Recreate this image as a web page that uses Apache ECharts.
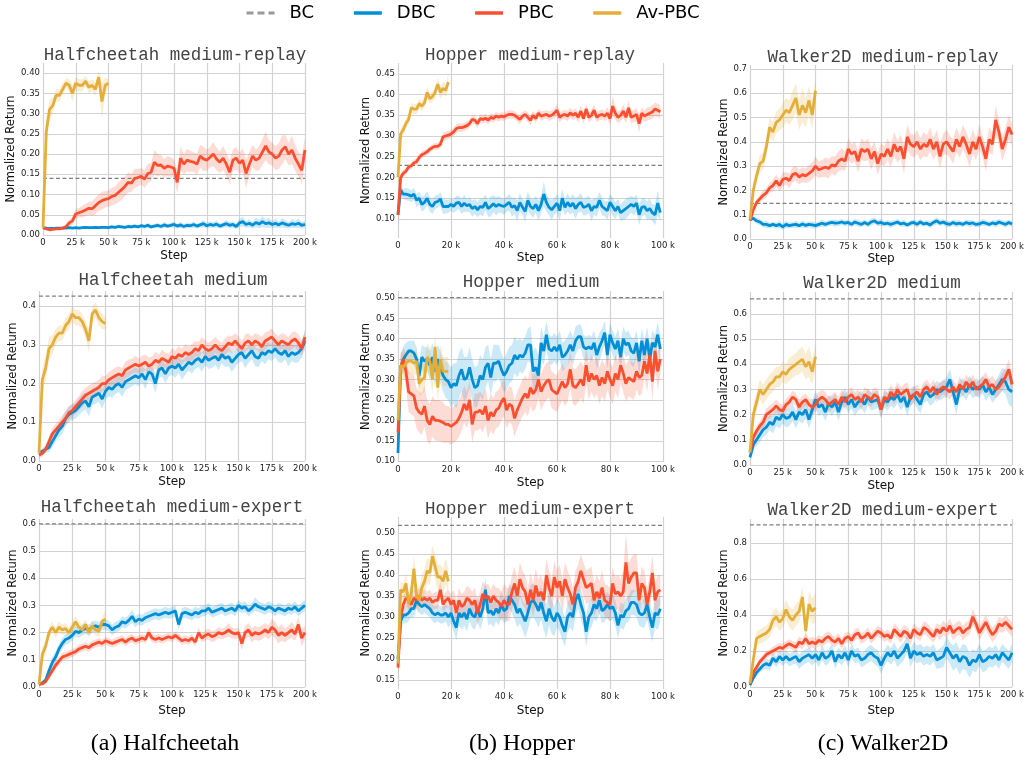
<!DOCTYPE html>
<html>
<head>
<meta charset="utf-8">
<script src="https://cdn.jsdelivr.net/npm/echarts@6/dist/echarts.min.js"></script>
<style>
html, body { margin: 0; padding: 0; background: #fff; }
#container { width: 1027px; height: 761px; }
</style>
</head>
<body>
<div id="container"></div>
<script>
// 采样网格 (单位: k step)
function range(start, stop, step) {
    var arr = [];
    for (var v = start; v <= stop + 1e-9; v += step) {
        arr.push(+v.toFixed(2));
    }
    return arr;
}
var steps200 = range(0, 200, 2.5);
var stepsAv200 = range(0, 50, 2.5);
var steps100 = range(0, 99, 1);
var stepsAv100 = range(0, 19, 1);

var titles = ['Halfcheetah medium-replay', 'Hopper medium-replay', 'Walker2D medium-replay',
    'Halfcheetah medium', 'Hopper medium', 'Walker2D medium',
    'Halfcheetah medium-expert', 'Hopper medium-expert', 'Walker2D medium-expert'];
var captions = ['(a) Halfcheetah', '(b) Hopper', '(c) Walker2D'];
var methods = ['BC', 'DBC', 'PBC', 'Av-PBC'];

// BC 基线
var bcValues = [0.14, 0.229, 0.147, 0.426, 0.501, 0.66, 0.6, 0.518, 0.9];

// y 轴刻度
var ticksHcReplay = [0, 0.05, 0.10, 0.15, 0.20, 0.25, 0.30, 0.35, 0.40];
var ticksHopReplay = [0.10, 0.15, 0.20, 0.25, 0.30, 0.35, 0.40, 0.45];
var ticksWalkReplay = [0, 0.1, 0.2, 0.3, 0.4, 0.5, 0.6, 0.7];
var ticksHcMedium = [0, 0.1, 0.2, 0.3, 0.4];
var ticksHopMedium = [0.10, 0.15, 0.20, 0.25, 0.30, 0.35, 0.40, 0.45, 0.50];
var ticksWalkMedium = [0, 0.1, 0.2, 0.3, 0.4, 0.5, 0.6];
var ticksHcExpert = [0, 0.1, 0.2, 0.3, 0.4, 0.5, 0.6];
var ticksHopExpert = [0.15, 0.20, 0.25, 0.30, 0.35, 0.40, 0.45, 0.50];
var ticksWalkExpert = [0, 0.2, 0.4, 0.6, 0.8];

// ---------- Halfcheetah medium-replay ----------
var hcReplayDbc = [
    .018,.017,.016,.016,.017,.017,.017,.017,.018,.017,
    .018,.017,.018,.019,.018,.018,.019,.018,.019,.019,
    .018,.020,.019,.021,.020,.019,.021,.020,.022,.020,
    .023,.021,.024,.020,.022,.024,.021,.025,.022,.024,
    .026,.022,.025,.021,.024,.023,.026,.022,.025,.028,
    .023,.026,.024,.027,.022,.025,.028,.024,.026,.021,
    .030,.033,.026,.029,.024,.031,.027,.033,.028,.030,
    .026,.029,.025,.030,.027,.024,.028,.026,.029,.024,
    .026];
var hcReplayDbcSd = [
    .002,.002,.002,.002,.002,.002,.002,.002,.003,.002,
    .003,.002,.003,.003,.003,.003,.003,.003,.004,.003,
    .004,.004,.004,.005,.004,.004,.005,.004,.005,.004,
    .005,.005,.006,.005,.005,.006,.005,.007,.005,.006,
    .007,.006,.008,.006,.007,.006,.008,.006,.007,.009,
    .007,.008,.007,.009,.006,.007,.009,.007,.008,.006,
    .010,.012,.008,.010,.008,.012,.010,.014,.010,.012,
    .009,.011,.008,.012,.010,.008,.011,.009,.012,.008,
    .009];
var hcReplayPbc = [
    .018,.015,.013,.014,.015,.015,.017,.020,.030,.035,
    .052,.055,.058,.062,.066,.065,.072,.080,.085,.088,
    .090,.095,.098,.105,.112,.120,.130,.128,.140,.142,
    .145,.138,.152,.155,.180,.172,.173,.165,.170,.168,
    .165,.130,.190,.175,.185,.182,.180,.175,.195,.188,
    .185,.192,.200,.188,.180,.190,.175,.155,.185,.190,
    .177,.185,.152,.175,.195,.185,.190,.205,.220,.205,
    .200,.190,.195,.210,.218,.200,.210,.190,.175,.160,
    .210];
var hcReplayPbcSd = [
    .002,.002,.002,.002,.002,.003,.004,.005,.008,.010,
    .012,.012,.014,.015,.016,.018,.020,.020,.022,.020,
    .020,.022,.022,.025,.025,.024,.025,.022,.024,.022,
    .020,.022,.024,.022,.030,.028,.025,.022,.025,.024,
    .022,.028,.030,.025,.028,.026,.024,.026,.028,.030,
    .026,.025,.030,.028,.026,.030,.028,.030,.026,.028,
    .026,.030,.035,.030,.028,.026,.030,.032,.035,.030,
    .028,.030,.032,.035,.030,.028,.035,.032,.030,.035,
    .030];
var hcReplayAv = [
    .018,.255,.310,.320,.345,.345,.360,.375,.370,.350,
    .375,.370,.370,.380,.365,.370,.360,.390,.330,.370,
    .375];
var hcReplayAvSd = [
    .003,.030,.025,.020,.015,.015,.015,.012,.015,.020,
    .015,.015,.015,.012,.015,.015,.015,.015,.045,.020,
    .010];

// ---------- Hopper medium-replay ----------
var hopReplayDbc = [
    .110,.170,.160,.160,.158,.155,.160,.145,.150,.135,
    .140,.150,.135,.130,.140,.142,.148,.130,.130,.130,
    .135,.130,.138,.140,.130,.138,.132,.135,.125,.130,
    .122,.130,.128,.140,.125,.130,.137,.130,.135,.132,
    .130,.135,.140,.128,.132,.120,.140,.128,.118,.145,
    .130,.125,.135,.120,.135,.160,.140,.128,.122,.130,
    .138,.120,.150,.128,.140,.130,.138,.125,.135,.140,
    .128,.130,.135,.120,.130,.128,.145,.130,.125,.120,
    .140,.130,.120,.130,.115,.120,.125,.130,.135,.130,
    .138,.110,.128,.130,.120,.125,.115,.110,.138,.115];
var hopReplayDbcSd = [
    .010,.012,.012,.015,.015,.014,.015,.016,.016,.018,
    .018,.016,.018,.018,.016,.015,.016,.018,.017,.016,
    .015,.016,.018,.016,.018,.020,.016,.018,.020,.018,
    .018,.020,.022,.018,.020,.025,.020,.022,.020,.018,
    .020,.018,.020,.022,.020,.025,.022,.020,.025,.022,
    .020,.022,.020,.025,.022,.030,.022,.020,.025,.020,
    .022,.025,.022,.020,.022,.020,.022,.025,.020,.022,
    .020,.022,.020,.025,.020,.022,.020,.022,.018,.022,
    .020,.022,.020,.018,.020,.022,.025,.022,.020,.022,
    .020,.025,.022,.020,.022,.025,.020,.025,.030,.020];
var hopReplayPbc = [
    .110,.200,.210,.215,.225,.228,.235,.238,.248,.255,
    .258,.262,.268,.272,.275,.275,.280,.298,.300,.302,
    .305,.310,.318,.320,.320,.322,.325,.330,.340,.338,
    .330,.342,.340,.343,.338,.345,.342,.348,.345,.348,
    .346,.350,.352,.352,.350,.345,.340,.348,.352,.345,
    .338,.350,.342,.355,.348,.350,.352,.348,.350,.355,
    .362,.345,.350,.352,.348,.356,.350,.355,.345,.360,
    .342,.365,.345,.350,.362,.345,.350,.352,.348,.355,
    .342,.372,.355,.345,.350,.360,.345,.368,.345,.348,
    .352,.330,.355,.348,.352,.355,.358,.365,.362,.358];
var hopReplayPbcSd = [
    .030,.010,.008,.008,.008,.008,.008,.008,.008,.008,
    .008,.008,.008,.008,.008,.008,.010,.010,.010,.010,
    .010,.010,.010,.010,.010,.010,.010,.010,.010,.010,
    .010,.010,.010,.010,.010,.010,.010,.010,.010,.010,
    .010,.010,.010,.010,.010,.010,.012,.010,.010,.012,
    .012,.010,.012,.010,.012,.010,.010,.012,.010,.012,
    .014,.012,.010,.012,.012,.012,.012,.012,.012,.014,
    .012,.014,.012,.012,.014,.012,.012,.012,.012,.014,
    .014,.025,.016,.014,.014,.016,.014,.018,.016,.014,
    .016,.022,.014,.014,.016,.016,.016,.016,.016,.016];
var hopReplayAv = [
    .200,.305,.315,.330,.340,.368,.365,.365,.378,.372,
    .380,.405,.390,.395,.405,.425,.405,.415,.410,.430];
var hopReplayAvSd = [
    .030,.015,.012,.012,.012,.012,.012,.012,.012,.012,
    .012,.015,.012,.012,.015,.015,.015,.015,.015,.020];

// ---------- Walker2D medium-replay ----------
var walkReplayDbc = [
    .080,.085,.075,.070,.060,.060,.055,.060,.055,.060,
    .050,.060,.055,.058,.060,.055,.062,.056,.060,.058,
    .055,.060,.065,.060,.065,.068,.065,.066,.070,.065,
    .068,.060,.070,.065,.060,.068,.060,.070,.075,.065,
    .068,.062,.065,.060,.065,.070,.062,.065,.058,.065,
    .068,.060,.070,.062,.065,.058,.068,.075,.065,.070,
    .063,.060,.068,.062,.065,.060,.068,.063,.066,.060,
    .062,.068,.065,.060,.066,.062,.070,.065,.060,.068,
    .062];
var walkReplayDbcSd = [
    .005,.010,.012,.012,.012,.015,.012,.012,.012,.015,
    .012,.015,.012,.012,.015,.012,.015,.012,.012,.015,
    .012,.012,.015,.012,.012,.012,.015,.012,.012,.012,
    .012,.012,.012,.015,.012,.012,.012,.015,.012,.012,
    .015,.012,.012,.015,.012,.012,.012,.015,.012,.012,
    .012,.015,.012,.012,.012,.015,.012,.015,.012,.012,
    .012,.012,.012,.015,.012,.012,.012,.015,.012,.012,
    .012,.015,.012,.012,.012,.015,.012,.012,.015,.012,
    .012];
var walkReplayPbc = [
    .075,.120,.150,.165,.180,.190,.210,.220,.240,.220,
    .245,.250,.240,.265,.270,.255,.265,.260,.270,.280,
    .300,.285,.290,.295,.290,.305,.300,.320,.330,.320,
    .370,.350,.360,.320,.370,.360,.370,.330,.360,.310,
    .350,.340,.370,.340,.390,.360,.380,.330,.420,.390,
    .380,.400,.370,.390,.380,.410,.370,.400,.340,.390,
    .400,.380,.360,.410,.380,.420,.390,.350,.400,.370,
    .420,.380,.330,.410,.390,.490,.440,.370,.410,.460,
    .430];
var walkReplayPbcSd = [
    .005,.010,.015,.015,.020,.020,.020,.025,.025,.025,
    .030,.025,.030,.030,.030,.030,.030,.030,.035,.035,
    .040,.035,.035,.040,.040,.035,.040,.040,.045,.040,
    .045,.040,.040,.045,.045,.040,.045,.045,.040,.045,
    .045,.040,.045,.045,.050,.045,.050,.060,.050,.045,
    .045,.050,.045,.050,.045,.050,.045,.050,.050,.045,
    .050,.045,.050,.050,.045,.050,.050,.055,.050,.045,
    .050,.045,.050,.050,.045,.060,.050,.050,.050,.050,
    .045];
var walkReplayAv = [
    .080,.200,.260,.310,.320,.380,.460,.440,.480,.490,
    .510,.530,.520,.550,.580,.510,.550,.520,.570,.510,
    .610];
var walkReplayAvSd = [
    .005,.030,.030,.035,.035,.040,.040,.040,.045,.045,
    .050,.050,.050,.060,.060,.060,.070,.060,.060,.060,
    .050];

// ---------- Halfcheetah medium ----------
var hcMediumDbc = [
    .020,.025,.030,.035,.050,.065,.080,.090,.110,.120,
    .125,.130,.140,.150,.155,.140,.165,.170,.175,.160,
    .180,.190,.185,.195,.200,.190,.205,.210,.215,.220,
    .215,.225,.210,.230,.225,.200,.235,.240,.225,.240,
    .245,.240,.250,.235,.245,.255,.250,.260,.265,.255,
    .270,.260,.265,.270,.260,.275,.265,.270,.255,.265,
    .275,.280,.265,.275,.285,.270,.265,.280,.275,.285,
    .280,.290,.280,.275,.285,.270,.280,.275,.280,.290,
    .310];
var hcMediumDbcSd = [
    .005,.008,.010,.012,.015,.015,.018,.020,.020,.020,
    .020,.020,.022,.022,.022,.025,.022,.022,.022,.025,
    .022,.022,.022,.022,.022,.025,.022,.022,.022,.022,
    .022,.022,.025,.022,.022,.025,.022,.022,.025,.022,
    .022,.025,.022,.025,.022,.022,.025,.022,.022,.025,
    .022,.022,.025,.022,.025,.022,.022,.025,.025,.022,
    .022,.022,.025,.022,.022,.025,.022,.022,.025,.022,
    .022,.022,.025,.022,.022,.025,.022,.022,.025,.022,
    .022];
var hcMediumPbc = [
    .015,.020,.030,.050,.070,.080,.090,.100,.110,.125,
    .130,.140,.150,.160,.170,.175,.180,.185,.190,.200,
    .200,.210,.215,.220,.225,.220,.235,.240,.245,.250,
    .245,.250,.255,.245,.250,.260,.255,.265,.260,.255,
    .270,.265,.275,.270,.280,.275,.280,.290,.285,.300,
    .290,.285,.290,.300,.290,.285,.295,.305,.300,.310,
    .300,.290,.305,.310,.300,.310,.305,.295,.310,.315,
    .320,.310,.300,.310,.305,.300,.310,.315,.305,.290,
    .320];
var hcMediumPbcSd = [
    .005,.008,.010,.012,.015,.015,.015,.018,.018,.018,
    .018,.018,.018,.020,.020,.020,.020,.020,.020,.020,
    .020,.020,.020,.022,.020,.020,.022,.022,.020,.022,
    .020,.022,.020,.022,.020,.022,.020,.022,.020,.022,
    .022,.020,.022,.020,.022,.020,.022,.020,.022,.020,
    .022,.020,.022,.020,.022,.020,.022,.020,.022,.020,
    .022,.020,.022,.020,.022,.020,.022,.025,.022,.020,
    .022,.020,.022,.020,.022,.020,.022,.020,.022,.020,
    .020];
var hcMediumAv = [
    .020,.210,.240,.290,.300,.320,.330,.330,.350,.360,
    .380,.370,.370,.360,.340,.310,.380,.390,.370,.360,
    .355];
var hcMediumAvSd = [
    .005,.030,.030,.030,.025,.020,.020,.020,.020,.020,
    .020,.020,.020,.020,.020,.030,.020,.020,.020,.020,
    .015];

// ---------- Hopper medium ----------
var hopMediumDbc = [
    .120,.330,.350,.360,.370,.370,.365,.350,.310,.355,
    .345,.350,.335,.355,.320,.350,.330,.310,.300,.295,
    .280,.290,.285,.310,.325,.300,.305,.330,.300,.280,
    .285,.310,.300,.330,.340,.305,.340,.340,.345,.325,
    .310,.320,.335,.340,.360,.350,.360,.355,.365,.385,
    .385,.320,.330,.310,.390,.370,.410,.375,.370,.380,
    .370,.385,.355,.360,.370,.385,.370,.395,.405,.405,
    .380,.375,.380,.375,.390,.360,.380,.395,.415,.360,
    .410,.390,.375,.395,.355,.400,.385,.390,.370,.365,
    .390,.345,.395,.360,.400,.350,.390,.380,.410,.375];
var hopMediumDbcSd = [
    .020,.030,.030,.030,.025,.025,.030,.030,.035,.030,
    .035,.030,.035,.035,.035,.035,.040,.040,.045,.045,
    .050,.050,.055,.055,.055,.055,.050,.050,.050,.050,
    .050,.050,.050,.050,.045,.045,.045,.045,.040,.040,
    .040,.045,.045,.045,.045,.045,.040,.040,.040,.040,
    .045,.050,.050,.050,.040,.035,.035,.035,.035,.035,
    .035,.035,.035,.035,.035,.035,.035,.035,.030,.030,
    .030,.030,.030,.030,.030,.035,.035,.030,.030,.035,
    .030,.030,.030,.030,.035,.030,.030,.030,.035,.035,
    .030,.035,.030,.035,.030,.035,.030,.030,.030,.035];
var hopMediumPbc = [
    .170,.330,.350,.320,.270,.265,.260,.230,.220,.215,
    .235,.200,.190,.210,.200,.200,.198,.195,.190,.190,
    .185,.190,.195,.205,.220,.240,.225,.250,.190,.220,
    .220,.225,.215,.235,.200,.220,.210,.225,.230,.245,
    .255,.225,.240,.235,.205,.225,.240,.255,.265,.255,
    .280,.265,.275,.300,.270,.285,.295,.300,.275,.270,
    .265,.280,.295,.280,.290,.325,.285,.280,.290,.300,
    .285,.335,.295,.315,.300,.310,.285,.305,.290,.320,
    .300,.285,.315,.300,.335,.315,.290,.305,.300,.295,
    .320,.305,.310,.345,.315,.360,.295,.370,.320,.350];
var hopMediumPbcSd = [
    .040,.030,.030,.040,.050,.050,.050,.050,.050,.050,
    .050,.050,.050,.050,.050,.050,.050,.050,.045,.045,
    .045,.045,.045,.045,.045,.045,.045,.045,.045,.045,
    .045,.045,.045,.045,.045,.045,.045,.045,.045,.045,
    .045,.045,.045,.045,.045,.045,.045,.045,.045,.045,
    .045,.045,.045,.045,.045,.045,.045,.045,.045,.045,
    .045,.045,.045,.045,.045,.045,.045,.045,.045,.045,
    .045,.045,.045,.045,.045,.045,.045,.045,.045,.045,
    .045,.045,.045,.045,.045,.045,.045,.045,.045,.045,
    .045,.045,.045,.040,.045,.040,.045,.040,.045,.040];
var hopMediumAv = [
    .200,.335,.330,.340,.345,.345,.340,.345,.290,.300,
    .305,.355,.345,.300,.380,.280,.350,.320,.320,.320];
var hopMediumAvSd = [
    .030,.030,.030,.030,.030,.030,.030,.030,.030,.035,
    .035,.035,.035,.035,.035,.040,.035,.035,.035,.035];

// ---------- Walker2D medium ----------
var walkMediumDbc = [
    .030,.080,.100,.120,.140,.150,.170,.160,.190,.180,
    .200,.185,.190,.210,.180,.210,.200,.220,.180,.220,
    .260,.230,.240,.210,.245,.230,.250,.210,.250,.270,
    .240,.260,.230,.250,.260,.240,.270,.250,.255,.260,
    .220,.260,.250,.270,.260,.280,.250,.270,.230,.270,
    .280,.260,.240,.280,.290,.270,.280,.300,.290,.300,
    .310,.340,.290,.240,.300,.310,.290,.320,.300,.310,
    .300,.320,.290,.310,.280,.300,.320,.340,.330,.300,
    .290];
var walkMediumDbcSd = [
    .010,.020,.025,.030,.030,.030,.030,.035,.035,.035,
    .035,.035,.035,.035,.035,.035,.035,.035,.035,.035,
    .035,.035,.035,.035,.035,.035,.035,.035,.035,.035,
    .035,.035,.035,.035,.035,.035,.035,.035,.035,.035,
    .035,.035,.035,.035,.035,.035,.035,.035,.035,.035,
    .035,.035,.035,.035,.035,.035,.035,.035,.035,.035,
    .040,.040,.040,.040,.035,.035,.035,.035,.035,.035,
    .035,.035,.035,.035,.035,.035,.040,.045,.050,.060,
    .060];
var walkMediumPbc = [
    .050,.110,.135,.155,.170,.200,.210,.220,.235,.220,
    .215,.240,.250,.270,.260,.230,.250,.260,.240,.230,
    .240,.260,.270,.260,.240,.250,.260,.240,.270,.250,
    .270,.280,.260,.270,.250,.280,.270,.260,.280,.270,
    .220,.270,.260,.290,.270,.300,.280,.290,.300,.260,
    .280,.290,.270,.300,.310,.290,.310,.280,.300,.310,
    .300,.290,.310,.290,.320,.300,.330,.310,.330,.300,
    .310,.320,.340,.310,.320,.300,.310,.330,.350,.380,
    .320];
var walkMediumPbcSd = [
    .010,.015,.020,.020,.025,.025,.025,.025,.025,.025,
    .025,.025,.025,.025,.025,.030,.025,.025,.025,.030,
    .030,.030,.030,.030,.030,.030,.030,.030,.030,.030,
    .030,.030,.030,.030,.030,.030,.030,.030,.030,.030,
    .030,.030,.030,.030,.030,.030,.030,.030,.030,.030,
    .030,.030,.030,.030,.030,.030,.030,.030,.030,.030,
    .030,.030,.030,.030,.030,.030,.030,.030,.030,.030,
    .030,.030,.030,.030,.035,.035,.035,.035,.035,.040,
    .040];
var walkMediumAv = [
    .050,.200,.250,.300,.280,.300,.320,.330,.350,.350,
    .370,.360,.380,.390,.400,.410,.420,.390,.410,.370,
    .430];
var walkMediumAvSd = [
    .010,.040,.040,.040,.040,.040,.040,.040,.040,.040,
    .040,.040,.045,.045,.045,.050,.050,.050,.060,.050,
    .050];

// ---------- Halfcheetah medium-expert ----------
var hcExpertDbc = [
    .010,.015,.025,.060,.090,.110,.140,.160,.175,.180,
    .190,.205,.200,.210,.215,.210,.220,.225,.220,.230,
    .230,.225,.210,.220,.225,.240,.235,.245,.260,.240,
    .250,.245,.255,.260,.265,.270,.265,.270,.275,.270,
    .275,.280,.230,.270,.275,.270,.265,.275,.270,.280,
    .280,.290,.275,.280,.285,.290,.280,.285,.290,.280,
    .300,.290,.295,.280,.290,.305,.295,.290,.285,.295,
    .290,.280,.290,.285,.280,.290,.285,.295,.280,.290,
    .300];
var hcExpertDbcSd = [
    .005,.008,.010,.015,.020,.020,.020,.020,.020,.020,
    .020,.020,.020,.020,.020,.020,.020,.020,.020,.020,
    .020,.020,.020,.020,.020,.020,.020,.020,.025,.020,
    .020,.020,.020,.020,.020,.020,.020,.020,.020,.020,
    .020,.020,.020,.020,.020,.020,.020,.020,.020,.020,
    .020,.020,.020,.020,.020,.020,.020,.020,.020,.020,
    .020,.020,.020,.020,.020,.025,.020,.020,.020,.020,
    .020,.020,.020,.020,.020,.020,.020,.020,.020,.020,
    .020];
var hcExpertPbc = [
    .010,.012,.020,.040,.060,.080,.095,.110,.115,.120,
    .125,.130,.140,.145,.150,.145,.155,.160,.165,.160,
    .170,.165,.160,.165,.170,.175,.165,.175,.180,.170,
    .175,.180,.175,.200,.180,.175,.180,.175,.180,.185,
    .180,.190,.180,.170,.175,.170,.180,.165,.200,.180,
    .190,.195,.185,.190,.200,.195,.200,.210,.200,.195,
    .200,.160,.200,.210,.190,.200,.195,.200,.210,.200,
    .220,.210,.190,.200,.190,.200,.210,.195,.230,.180,
    .200];
var hcExpertPbcSd = [
    .005,.008,.010,.012,.015,.015,.015,.015,.015,.015,
    .015,.015,.015,.015,.015,.015,.015,.015,.015,.015,
    .015,.015,.015,.015,.015,.015,.015,.015,.015,.015,
    .015,.015,.015,.020,.015,.015,.015,.015,.015,.015,
    .015,.015,.015,.015,.015,.015,.015,.015,.020,.015,
    .020,.020,.020,.020,.020,.020,.020,.025,.020,.020,
    .020,.025,.025,.025,.025,.025,.025,.025,.025,.025,
    .030,.030,.030,.030,.025,.025,.030,.025,.030,.030,
    .025];
var hcExpertAv = [
    .010,.120,.150,.200,.220,.200,.220,.210,.215,.200,
    .220,.240,.220,.210,.230,.200,.225,.210,.205,.240,
    .250];
var hcExpertAvSd = [
    .005,.030,.025,.020,.020,.020,.020,.020,.020,.020,
    .020,.020,.020,.020,.020,.020,.020,.020,.020,.020,
    .030];

// ---------- Hopper medium-expert ----------
var hopExpertDbc = [
    .200,.290,.305,.305,.310,.320,.320,.340,.330,.325,
    .330,.325,.320,.310,.305,.310,.305,.305,.310,.300,
    .310,.290,.275,.310,.300,.310,.295,.320,.305,.300,
    .320,.300,.320,.365,.310,.315,.305,.320,.310,.330,
    .315,.320,.350,.340,.330,.310,.320,.305,.290,.310,
    .335,.340,.330,.315,.335,.310,.290,.320,.300,.290,
    .310,.300,.280,.265,.300,.310,.300,.340,.355,.330,
    .310,.265,.300,.310,.330,.320,.340,.315,.320,.330,
    .320,.325,.310,.280,.305,.300,.315,.320,.335,.335,
    .330,.310,.305,.310,.330,.300,.275,.310,.305,.320];
var hopExpertDbcSd = [
    .030,.020,.020,.020,.020,.020,.020,.020,.020,.020,
    .020,.020,.020,.020,.020,.020,.020,.020,.020,.025,
    .025,.025,.030,.030,.030,.030,.030,.030,.030,.030,
    .030,.030,.030,.030,.030,.030,.030,.030,.030,.030,
    .030,.030,.030,.030,.035,.035,.035,.035,.040,.040,
    .040,.040,.040,.040,.040,.040,.040,.040,.040,.035,
    .035,.035,.035,.035,.035,.035,.035,.035,.035,.035,
    .035,.035,.035,.035,.035,.030,.030,.030,.030,.030,
    .030,.030,.030,.030,.030,.030,.030,.030,.030,.030,
    .030,.030,.030,.035,.035,.035,.035,.035,.035,.030];
var hopExpertPbc = [
    .180,.300,.330,.345,.340,.330,.345,.340,.350,.340,
    .345,.340,.345,.335,.340,.340,.365,.330,.340,.345,
    .330,.340,.310,.340,.325,.330,.345,.340,.330,.340,
    .310,.330,.355,.345,.350,.335,.350,.340,.335,.325,
    .340,.330,.330,.360,.380,.350,.390,.370,.360,.330,
    .365,.340,.375,.350,.360,.340,.400,.370,.350,.395,
    .370,.385,.350,.390,.370,.355,.330,.370,.385,.410,
    .390,.370,.375,.380,.340,.360,.345,.370,.340,.335,
    .330,.380,.355,.360,.350,.360,.430,.380,.395,.405,
    .405,.340,.380,.370,.330,.360,.405,.340,.360,.365];
var hopExpertPbcSd = [
    .030,.020,.020,.020,.020,.020,.020,.020,.020,.020,
    .020,.020,.020,.020,.020,.020,.020,.020,.020,.020,
    .025,.025,.030,.030,.030,.030,.030,.030,.030,.030,
    .030,.030,.030,.030,.030,.030,.030,.030,.035,.035,
    .040,.040,.040,.040,.040,.040,.040,.040,.040,.040,
    .040,.040,.040,.040,.040,.040,.040,.040,.040,.040,
    .040,.040,.040,.040,.040,.040,.040,.040,.040,.040,
    .040,.040,.040,.040,.040,.040,.040,.040,.040,.040,
    .040,.040,.040,.040,.040,.050,.070,.050,.045,.045,
    .045,.040,.040,.040,.040,.040,.040,.040,.040,.035];
var hopExpertAv = [
    .190,.365,.360,.380,.330,.355,.415,.350,.340,.370,
    .385,.410,.405,.445,.420,.395,.395,.385,.410,.385];
var hopExpertAvSd = [
    .040,.020,.020,.025,.030,.030,.030,.030,.030,.030,
    .030,.030,.030,.025,.030,.030,.030,.030,.030,.030];

// ---------- Walker2D medium-expert ----------
var walkExpertDbc = [
    .010,.050,.080,.100,.120,.130,.120,.160,.140,.170,
    .150,.170,.150,.160,.170,.140,.160,.170,.180,.160,
    .180,.150,.190,.160,.170,.200,.140,.180,.160,.190,
    .150,.200,.170,.180,.150,.160,.180,.190,.170,.160,
    .120,.160,.190,.170,.200,.160,.180,.200,.240,.160,
    .200,.180,.190,.170,.180,.170,.190,.150,.160,.170,
    .220,.190,.160,.180,.140,.170,.160,.120,.150,.140,
    .180,.140,.150,.170,.160,.180,.150,.190,.170,.150,
    .190];
var walkExpertDbcSd = [
    .005,.015,.020,.020,.025,.030,.030,.030,.030,.035,
    .035,.035,.035,.035,.040,.040,.040,.040,.040,.040,
    .040,.040,.040,.040,.040,.040,.040,.040,.040,.040,
    .040,.040,.040,.040,.040,.040,.045,.045,.045,.045,
    .045,.045,.045,.045,.050,.050,.050,.050,.050,.050,
    .050,.050,.050,.050,.050,.050,.050,.050,.055,.060,
    .060,.060,.070,.070,.070,.070,.070,.070,.060,.060,
    .060,.060,.060,.055,.055,.055,.050,.050,.050,.050,
    .050];
var walkExpertPbc = [
    .020,.080,.110,.140,.160,.180,.190,.200,.210,.220,
    .215,.230,.240,.230,.220,.250,.240,.270,.240,.250,
    .240,.260,.250,.270,.280,.260,.250,.270,.240,.270,
    .280,.260,.290,.300,.270,.280,.300,.270,.290,.310,
    .300,.280,.290,.270,.320,.300,.280,.310,.300,.270,
    .320,.300,.290,.330,.320,.300,.280,.320,.300,.330,
    .310,.340,.300,.320,.330,.300,.320,.330,.390,.350,
    .300,.330,.360,.320,.290,.310,.350,.340,.360,.340,
    .320];
var walkExpertPbcSd = [
    .005,.010,.015,.015,.020,.020,.020,.025,.025,.025,
    .025,.025,.025,.025,.030,.030,.030,.030,.030,.030,
    .030,.030,.030,.030,.030,.030,.030,.030,.030,.030,
    .030,.030,.030,.030,.030,.030,.030,.030,.030,.030,
    .030,.030,.030,.030,.035,.035,.035,.035,.035,.035,
    .035,.035,.035,.035,.035,.035,.035,.035,.040,.040,
    .040,.040,.040,.040,.040,.040,.040,.040,.045,.040,
    .040,.040,.040,.040,.040,.040,.040,.040,.040,.040,
    .040];
var walkExpertAv = [
    .020,.150,.270,.280,.290,.300,.320,.370,.390,.360,
    .380,.430,.390,.370,.400,.420,.500,.310,.460,.420,
    .440];
var walkExpertAvSd = [
    .005,.040,.040,.040,.040,.040,.045,.050,.050,.050,
    .050,.055,.055,.060,.060,.060,.060,.060,.070,.070,
    .080];

// 颜色 (fivethirtyeight)
var colors = { BC: '#808080', DBC: '#008fd5', PBC: '#fc4f30', 'Av-PBC': '#e5ae38' };
var bandColors = { DBC: 'rgba(0,143,213,0.2)', PBC: 'rgba(252,79,48,0.2)', 'Av-PBC': 'rgba(229,174,56,0.22)' };

// 子图布局
var panels = [
    { rect: [43, 63, 262, 172], xMax: 200, xInt: 25, yMin: 0, yMax: 0.425, ticks: ticksHcReplay, dec: 2, yGap: 23, xGap: 15, title: [175, 55],
      xs: steps200, xsAv: stepsAv200, dbc: [hcReplayDbc, hcReplayDbcSd], pbc: [hcReplayPbc, hcReplayPbcSd], av: [hcReplayAv, hcReplayAvSd] },
    { rect: [398, 63, 265, 175], xMax: 100, xInt: 20, yMin: 0.054, yMax: 0.476, ticks: ticksHopReplay, dec: 2, yGap: 24, xGap: 14, title: [530, 55],
      xs: steps100, xsAv: stepsAv100, dbc: [hopReplayDbc, hopReplayDbcSd], pbc: [hopReplayPbc, hopReplayPbcSd], av: [hopReplayAv, hopReplayAvSd] },
    { rect: [750, 65, 263, 174], xMax: 200, xInt: 25, yMin: 0, yMax: 0.716, ticks: ticksWalkReplay, dec: 1, yGap: 18, xGap: 14, title: [883, 57],
      xs: steps200, xsAv: stepsAv200, dbc: [walkReplayDbc, walkReplayDbcSd], pbc: [walkReplayPbc, walkReplayPbcSd], av: [walkReplayAv, walkReplayAvSd] },
    { rect: [39, 291, 266, 170], xMax: 200, xInt: 25, yMin: 0, yMax: 0.439, ticks: ticksHcMedium, dec: 1, yGap: 19, xGap: 15, title: [173, 280],
      xs: steps200, xsAv: stepsAv200, dbc: [hcMediumDbc, hcMediumDbcSd], pbc: [hcMediumPbc, hcMediumPbcSd], av: [hcMediumAv, hcMediumAvSd] },
    { rect: [398, 291, 265, 171], xMax: 100, xInt: 20, yMin: 0.098, yMax: 0.517, ticks: ticksHopMedium, dec: 2, yGap: 24, xGap: 15, title: [531, 282],
      xs: steps100, xsAv: stepsAv100, dbc: [hopMediumDbc, hopMediumDbcSd], pbc: [hopMediumPbc, hopMediumPbcSd], av: [hopMediumAv, hopMediumAvSd] },
    { rect: [750, 292, 263, 173], xMax: 200, xInt: 25, yMin: 0, yMax: 0.687, ticks: ticksWalkMedium, dec: 1, yGap: 18, xGap: 15, title: [882, 283],
      xs: steps200, xsAv: stepsAv200, dbc: [walkMediumDbc, walkMediumDbcSd], pbc: [walkMediumPbc, walkMediumPbcSd], av: [walkMediumAv, walkMediumAvSd] },
    { rect: [39, 519, 266, 168], xMax: 200, xInt: 25, yMin: 0, yMax: 0.618, ticks: ticksHcExpert, dec: 1, yGap: 19, xGap: 18, title: [172, 507],
      xs: steps200, xsAv: stepsAv200, dbc: [hcExpertDbc, hcExpertDbcSd], pbc: [hcExpertPbc, hcExpertPbcSd], av: [hcExpertAv, hcExpertAvSd] },
    { rect: [398, 517, 265, 172], xMax: 100, xInt: 20, yMin: 0.129, yMax: 0.538, ticks: ticksHopExpert, dec: 2, yGap: 24, xGap: 16, title: [530, 509],
      xs: steps100, xsAv: stepsAv100, dbc: [hopExpertDbc, hopExpertDbcSd], pbc: [hopExpertPbc, hopExpertPbcSd], av: [hopExpertAv, hopExpertAvSd] },
    { rect: [750, 519, 263, 168], xMax: 200, xInt: 25, yMin: 0, yMax: 0.933, ticks: ticksWalkExpert, dec: 1, yGap: 18, xGap: 18, title: [883, 510],
      xs: steps200, xsAv: stepsAv200, dbc: [walkExpertDbc, walkExpertDbcSd], pbc: [walkExpertPbc, walkExpertPbcSd], av: [walkExpertAv, walkExpertAvSd] }
];
var captionX = [165, 522, 883];

function lineSeries(name, gi, xs, ys, color, width) {
    return {
        name: name,
        type: 'line',
        xAxisIndex: gi,
        yAxisIndex: gi,
        data: xs.map(function (x, i) { return [x, ys[i]]; }),
        symbol: 'none',
        silent: true,
        lineStyle: { color: color, width: width },
        itemStyle: { color: color }
    };
}

// 误差带: custom 多边形
function bandSeries(name, gi, xs, ys, sd, color) {
    return {
        name: name + ' band',
        type: 'custom',
        xAxisIndex: gi,
        yAxisIndex: gi,
        silent: true,
        clip: true,
        data: [[xs[0], ys[0]]],
        renderItem: function (params, api) {
            var pts = [];
            for (var i = 0; i < xs.length; i++) {
                pts.push(api.coord([xs[i], ys[i] + sd[i]]));
            }
            for (var j = xs.length - 1; j >= 0; j--) {
                pts.push(api.coord([xs[j], ys[j] - sd[j]]));
            }
            return { type: 'polygon', shape: { points: pts }, style: { fill: color } };
        }
    };
}

var grids = [], xAxes = [], yAxes = [], series = [], graphics = [];
panels.forEach(function (p, gi) {
    grids.push({ left: p.rect[0], top: p.rect[1], width: p.rect[2], height: p.rect[3], containLabel: false });
    xAxes.push({
        type: 'value', gridIndex: gi, min: 0, max: p.xMax, interval: p.xInt,
        name: 'Step', nameLocation: 'middle', nameGap: p.xGap,
        nameTextStyle: { fontFamily: 'DejaVu Sans', fontSize: 12, color: '#111' },
        axisLine: { show: false }, axisTick: { show: false },
        axisLabel: {
            fontFamily: 'DejaVu Sans', fontSize: 8.5, color: '#222', margin: 3,
            formatter: function (v) { return v === 0 ? '0' : v + ' k'; }
        },
        splitLine: { show: true, lineStyle: { color: '#d2d2d2', width: 1.2 } }
    });
    yAxes.push({
        type: 'value', gridIndex: gi, min: p.yMin, max: p.yMax,
        name: 'Normalized Return', nameLocation: 'middle', nameGap: p.yGap, nameRotate: 90,
        nameTextStyle: { fontFamily: 'DejaVu Sans', fontSize: 11.5, color: '#111' },
        axisLine: { show: false },
        axisTick: { show: false, customValues: p.ticks },
        axisLabel: {
            fontFamily: 'DejaVu Sans', fontSize: 8.5, color: '#222', margin: 3,
            customValues: p.ticks,
            formatter: (function (dec) { return function (v) { return v.toFixed(dec); }; })(p.dec)
        },
        splitLine: { show: true, lineStyle: { color: '#d2d2d2', width: 1.2 } }
    });

    // BC 虚线
    series.push({
        name: 'BC', type: 'line', xAxisIndex: gi, yAxisIndex: gi, symbol: 'none', silent: true,
        data: [[0, bcValues[gi]], [p.xMax, bcValues[gi]]],
        lineStyle: { color: colors.BC, width: 1.3, type: [4, 2.5] },
        itemStyle: { color: colors.BC }
    });
    [['DBC', p.xs, p.dbc], ['PBC', p.xs, p.pbc], ['Av-PBC', p.xsAv, p.av]].forEach(function (m) {
        series.push(bandSeries(m[0], gi, m[1], m[2][0], m[2][1], bandColors[m[0]]));
        series.push(lineSeries(m[0], gi, m[1], m[2][0], colors[m[0]], 2.8));
    });

    graphics.push({
        type: 'text', x: p.title[0], y: p.title[1],
        style: {
            text: titles[gi], fill: '#444', fontFamily: 'Liberation Mono', fontSize: 17.5,
            align: 'center', verticalAlign: 'middle', textAlign: 'center', textVerticalAlign: 'middle'
        }
    });
});
captions.forEach(function (c, i) {
    graphics.push({
        type: 'text', x: captionX[i], y: 744,
        style: {
            text: c, fill: '#000', fontFamily: 'Liberation Serif', fontSize: 24,
            align: 'center', verticalAlign: 'middle', textAlign: 'center', textVerticalAlign: 'middle'
        }
    });
});

var option = {
    animation: false,
    backgroundColor: '#fff',
    legend: {
        left: 240, top: -2,
        itemWidth: 28, itemHeight: 14, itemGap: 38,
        selectedMode: false,
        textStyle: { fontFamily: 'DejaVu Sans', fontSize: 18, color: '#000', lineHeight: 20, padding: [0, 0, 0, 10] },
        itemStyle: { opacity: 0 },
        lineStyle: { width: 3.5 },
        data: [
            { name: 'BC', lineStyle: { width: 3, type: [7, 4], color: '#999' } },
            { name: 'DBC' }, { name: 'PBC' }, { name: 'Av-PBC' }
        ]
    },
    grid: grids,
    xAxis: xAxes,
    yAxis: yAxes,
    series: series,
    graphic: graphics
};

var container = echarts.init(document.getElementById('container'));
container.setOption(option);
</script>
</body>
</html>
